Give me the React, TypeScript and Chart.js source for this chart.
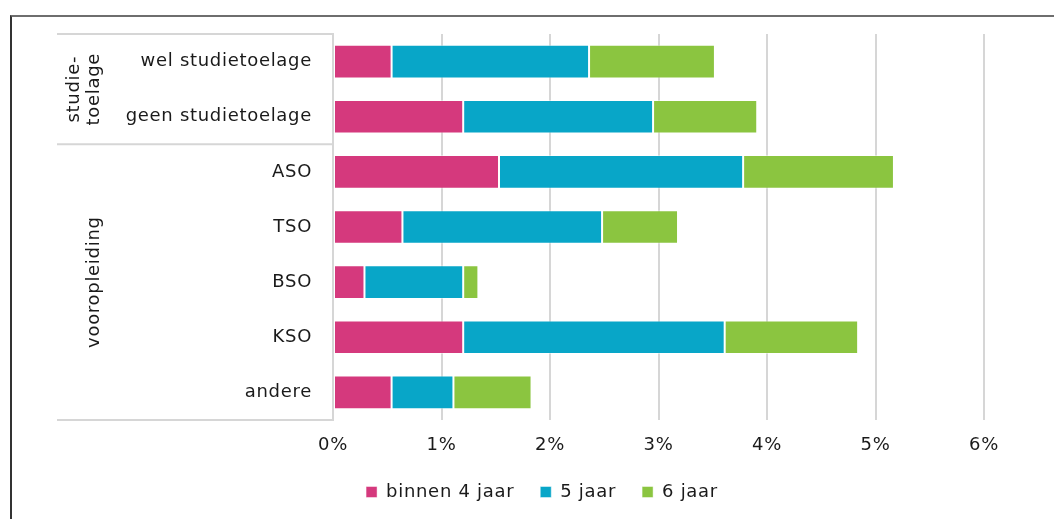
import React, { useEffect, useRef } from "react";
import { Chart, registerables } from "chart.js";

Chart.register(...registerables);

const categories = [
  "wel studietoelage",
  "geen studietoelage",
  "ASO",
  "TSO",
  "BSO",
  "KSO",
  "andere",
];
const binnen4Jaar = [0.54, 1.2, 1.53, 0.64, 0.29, 1.2, 0.54];
const vijfJaar = [1.82, 1.75, 2.25, 1.84, 0.91, 2.41, 0.57];
const zesJaar = [1.16, 0.96, 1.39, 0.7, 0.14, 1.23, 0.72];
const seriesLabels = ["binnen 4 jaar", "5 jaar", "6 jaar"];
const seriesColors = ["#D5397D", "#08A6C8", "#8BC540"];
const tickValues = [0, 1, 2, 3, 4, 5, 6];
const groups = [
  { lines: ["studie-", "toelage"], from: 0, to: 1 },
  { lines: ["vooropleiding"], from: 2, to: 6 },
];

const FONT = "'DejaVu Sans', Verdana, sans-serif";
const FS = 18;
const SPACING = "0.7px";
const TEXT = "#1a1a1a";
const GRID = "#d6d6d6";

const spacingPlugin = {
  id: "spacing",
  beforeInit(chart: any) {
    chart.ctx.letterSpacing = SPACING;
  },
  beforeUpdate(chart: any) {
    chart.ctx.letterSpacing = SPACING;
  },
  beforeDraw(chart: any) {
    chart.ctx.letterSpacing = SPACING;
  },
};

const groupPlugin = {
  id: "groupPanel",
  afterDraw(chart: any) {
    const { ctx, chartArea, scales } = chart;
    const y = scales.y;
    const x0 = 57;
    const xr = chartArea.left;
    ctx.save();
    ctx.strokeStyle = GRID;
    ctx.lineWidth = 2;
    const half = (y.getPixelForValue(1) - y.getPixelForValue(0)) / 2;
    const lineYs: number[] = [chartArea.top];
    groups.forEach((g) => {
      lineYs.push(y.getPixelForValue(g.to) + half);
    });
    lineYs.forEach((ly) => {
      ctx.beginPath();
      ctx.moveTo(x0, ly);
      ctx.lineTo(xr, ly);
      ctx.stroke();
    });
    ctx.fillStyle = TEXT;
    ctx.font = `${FS}px ${FONT}`;
    ctx.textAlign = "center";
    ctx.textBaseline = "alphabetic";
    groups.forEach((g) => {
      const top = y.getPixelForValue(g.from) - half;
      const bot = y.getPixelForValue(g.to) + half;
      const cy = (top + bot) / 2;
      const n = g.lines.length;
      g.lines.forEach((t, i) => {
        const bx = 99 - (n - 1 - i) * 20;
        ctx.save();
        ctx.translate(bx, cy);
        ctx.rotate(-Math.PI / 2);
        ctx.fillText(t, 0, 0);
        ctx.restore();
      });
    });
    ctx.restore();
  },
};

export default function App() {
  const ref = useRef<HTMLCanvasElement | null>(null);
  useEffect(() => {
    if (!ref.current) return;
    const data = [binnen4Jaar, vijfJaar, zesJaar];
    const padLeft = 100;
    const chart = new Chart(ref.current, {
      type: "bar",
      data: {
        labels: categories,
        datasets: data.map((d, i) => ({
          label: seriesLabels[i],
          data: d,
          backgroundColor: seriesColors[i],
          borderColor: "rgba(255,255,255,0.45)",
          borderWidth: 1,
          borderSkipped: false,
          categoryPercentage: 1,
          barPercentage: 0.61,
        })),
      },
      options: {
        indexAxis: "y",
        animation: false,
        responsive: false,
        layout: { padding: { left: padLeft, right: 70, top: 34, bottom: 8 } },
        scales: {
          x: {
            stacked: true,
            min: 0,
            max: 6,
            afterBuildTicks: (s: any) => {
              s.ticks = tickValues.map((v) => ({ value: v }));
            },
            afterFit: (s: any) => {
              s.height = 37;
            },
            grid: { color: GRID, lineWidth: 2, drawTicks: false },
            border: { display: false },
            ticks: {
              padding: 15,
              color: TEXT,
              font: { family: FONT, size: FS },
              callback: (v: any) => `${v}%`,
            },
          },
          y: {
            stacked: true,
            afterFit: (s: any) => {
              s.width = 333 - padLeft;
            },
            grid: { display: false, drawTicks: false },
            border: { display: true, color: GRID, width: 2 },
            ticks: {
              padding: 21,
              color: TEXT,
              font: { family: FONT, size: FS },
            },
          },
        },
        plugins: {
          legend: {
            position: "bottom",
            labels: {
              boxWidth: 11,
              boxHeight: 11,
              padding: 26,
              color: TEXT,
              font: { family: FONT, size: FS },
            },
          },
          tooltip: { enabled: false },
        },
      },
      plugins: [spacingPlugin, groupPlugin],
    });
    return () => chart.destroy();
  }, []);

  return (
    <div
      style={{
        position: "absolute",
        left: 0,
        top: 0,
        width: 1054,
        height: 519,
        overflow: "hidden",
        background: "#fff",
      }}
    >
      <div
        style={{
          position: "absolute",
          left: 10,
          top: 15,
          width: 1200,
          height: 700,
          borderLeft: "2px solid #333",
          borderTop: "2px solid #6e6e6e",
        }}
      />
      <canvas
        ref={ref}
        width={1054}
        height={519}
        style={{ position: "absolute", left: 0, top: 0 }}
      />
    </div>
  );
}
